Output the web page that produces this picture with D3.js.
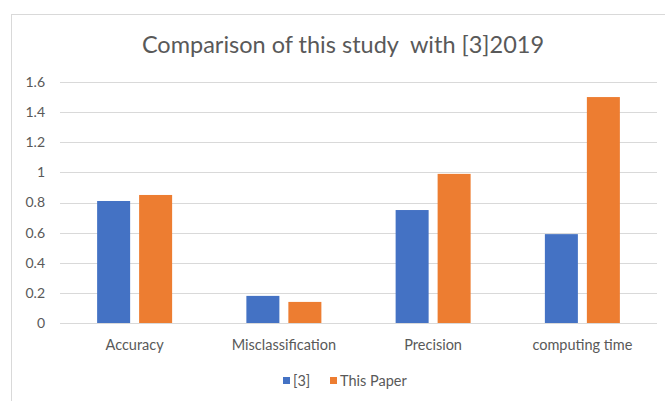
<!DOCTYPE html>
<html>
  <head>
    <meta charset="UTF-8" />
    <style>
      body { margin: 0; background: #fff; }
      svg { display: block; font-family: Lato, "Open Sans", sans-serif; }
    </style>
  </head>
  <body>
    <svg></svg>
    <script src="https://d3js.org/d3.v7.min.js"></script>
    <script>
      const categories = ["Accuracy", "Misclassification", "Precision", "computing time"];
      const seriesNames = ["[3]", "This Paper"];
      const ref3 = [0.81, 0.18, 0.75, 0.59];
      const thisPaper = [0.85, 0.14, 0.99, 1.5];
      const yTicks = [0, 0.2, 0.4, 0.6, 0.8, 1, 1.2, 1.4, 1.6];
      const colors = ["#4472c4", "#ed7d31"];

      let width = 665,
        height = 401;
      let svg = d3.select("svg").attr("width", width).attr("height", height);

      // chart border
      svg.append("rect")
        .attr("x", 11.5).attr("y", 14.5)
        .attr("width", 680).attr("height", 420)
        .attr("fill", "none").attr("stroke", "#d9d9d9");

      let x0 = d3.scaleBand().domain(categories).range([60, 657]).paddingInner(0).paddingOuter(0);
      let x1 = d3.scaleBand().domain(seriesNames).range([0, x0.bandwidth()]).paddingInner(0.214).paddingOuter(0.884);
      let y = d3.scaleLinear().domain([0, 1.6]).range([323, 82]);

      // gridlines
      svg.append("g").selectAll("line").data(yTicks).enter().append("line")
        .attr("x1", 60).attr("x2", 657)
        .attr("y1", d => Math.round(y(d)) + 0.5).attr("y2", d => Math.round(y(d)) + 0.5)
        .attr("stroke", "#d9d9d9").attr("stroke-width", 1);

      // y tick labels
      svg.append("g").selectAll("text").data(yTicks).enter().append("text")
        .attr("x", 45).attr("y", d => y(d))
        .attr("dy", "0.35em")
        .attr("text-anchor", "end")
        .attr("font-size", 14)
        .attr("fill", "#595959")
        .text(d => d);

      const data = categories.map((c, i) => ({ cat: c, vals: [ref3[i], thisPaper[i]] }));

      svg.append("g").selectAll("g").data(data).enter().append("g")
        .attr("transform", d => "translate(" + x0(d.cat) + ",0)")
        .selectAll("rect")
        .data(d => d.vals.map((v, j) => ({ name: seriesNames[j], v: v, j: j })))
        .enter().append("rect")
        .attr("x", d => x1(d.name))
        .attr("width", x1.bandwidth())
        .attr("y", d => y(d.v))
        .attr("height", d => y(0) - y(d.v))
        .attr("fill", d => colors[d.j]);

      // category labels
      svg.append("g").selectAll("text").data(categories).enter().append("text")
        .attr("x", d => x0(d) + x0.bandwidth() / 2)
        .attr("y", 350)
        .attr("text-anchor", "middle")
        .attr("font-size", 14.5)
        .attr("fill", "#595959")
        .text(d => d);

      // title
      svg.append("text")
        .attr("x", 343).attr("y", 53)
        .attr("text-anchor", "middle")
        .attr("font-size", 23.5)
        .attr("fill", "#595959")
        .text("Comparison of this study  with [3]2019")
        .style("white-space", "pre");

      // legend
      let legend = svg.append("g");
      const legendX = [283, 330];
      seriesNames.forEach((s, i) => {
        legend.append("rect")
          .attr("x", legendX[i]).attr("y", 377)
          .attr("width", 7).attr("height", 7)
          .attr("fill", colors[i]);
        legend.append("text")
          .attr("x", legendX[i] + 10).attr("y", 386)
          .attr("font-size", 14.5)
          .attr("fill", "#595959")
          .text(s);
      });
    </script>
  </body>
</html>
